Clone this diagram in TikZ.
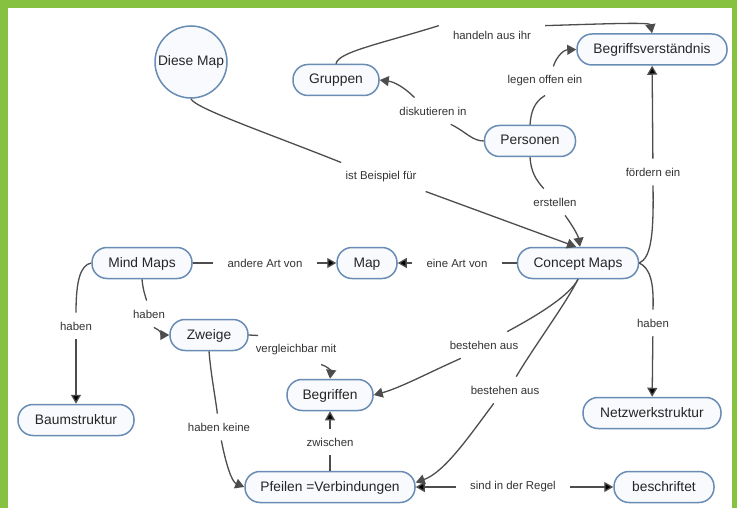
\documentclass[tikz,border=0pt]{standalone}
\usepackage{fontspec}
\setmainfont{Liberation Sans}
\usetikzlibrary{arrows.meta}
\definecolor{framegreen}{RGB}{134,193,63}
\definecolor{nodeborder}{RGB}{104,140,180}
\definecolor{nodefill}{RGB}{248,250,253}
\definecolor{linkgray}{RGB}{77,77,77}
\begin{document}
\begin{tikzpicture}[x=1pt,y=-1pt,
    cnode/.style={draw=nodeborder,fill=nodefill,line width=1.5pt,rounded corners=15pt,minimum height=31pt,inner sep=0pt,text height=10pt,text depth=2pt,font=\fontsize{13.8}{15}\selectfont,text=black!85},
    circnode/.style={draw=nodeborder,fill=nodefill,line width=1.5pt,circle,minimum size=72pt,inner sep=0pt,text height=10pt,text depth=2pt,font=\fontsize{13.8}{15}\selectfont,text=black!85},
    lnode/.style={inner xsep=14pt,inner ysep=9pt,font=\fontsize{11.4}{13}\selectfont,text=black!80},
    link/.style={draw=linkgray,line width=1.3pt},
    arr/.style={link,-{Triangle[length=9pt,width=10pt]}}]
    \useasboundingbox (0,0) rectangle (737,508);
    \fill[framegreen] (0,0) rectangle (737,508);
    \fill[white] (8,8) rectangle (732,508);

    \node[circnode] (diese) at (191,62) {Diese Map};
    \node[cnode,minimum width=86pt] (gruppen) at (336,80) {Gruppen};
    \node[cnode,minimum width=150pt] (begriff) at (652,49.5) {Begriffsverständnis};
    \node[cnode,minimum width=91pt] (personen) at (530,141) {Personen};
    \node[cnode,minimum width=100pt] (mind) at (142,263) {Mind Maps};
    \node[cnode,minimum width=60pt] (map) at (367,263) {Map};
    \node[cnode,minimum width=121pt] (concept) at (578,263) {Concept Maps};
    \node[cnode,minimum width=78pt] (zweige) at (209,335) {Zweige};
    \node[cnode,minimum width=86pt] (begriffen) at (330,395) {Begriffen};
    \node[cnode,minimum width=116pt] (baum) at (76,420) {Baumstruktur};
    \node[cnode,minimum width=170pt] (pfeilen) at (330,487) {Pfeilen =Verbindungen};
    \node[cnode,minimum width=100pt] (beschr) at (664,487) {beschriftet};
    \node[cnode,minimum width=138pt] (netz) at (652,413) {Netzwerkstruktur};

    \node[lnode] (lhandeln) at (492,35) {handeln aus ihr};
    \node[lnode] (llegen) at (545,81) {legen offen ein};
    \node[lnode] (ldisk) at (433,111) {diskutieren in};
    \node[lnode] (lbeispiel) at (381,177) {ist Beispiel für};
    \node[lnode] (lerstellen) at (555,202) {erstellen};
    \node[lnode] (lfoerdern) at (653,172) {fördern ein};
    \node[lnode] (landere) at (265,263) {andere Art von};
    \node[lnode] (leine) at (457,263) {eine Art von};
    \node[lnode] (lhabenA) at (76,326) {haben};
    \node[lnode] (lhabenB) at (149,314) {haben};
    \node[lnode] (lvergl) at (296,350) {vergleichbar mit};
    \node[lnode] (lkeine) at (219,427) {haben keine};
    \node[lnode] (lzwischen) at (330,442) {zwischen};
    \node[lnode] (lbest1) at (484,345) {bestehen aus};
    \node[lnode] (lbest2) at (505,390) {bestehen aus};
    \node[lnode] (lhabenC) at (653,323) {haben};
    \node[lnode] (lregel) at (513,487) {sind in der Regel};

    \draw[link] (gruppen.north) .. controls (338,52) and (380,44) .. (lhandeln.170);
    \draw[arr] (lhandeln.10) .. controls (600,24) and (650,22) .. (begriff.north);
    \draw[link] (personen.north) .. controls (531,112) and (534,102) .. (llegen.south);
    \draw[arr] (llegen.60) .. controls (555,60) and (562,50) .. (begriff.west);
    \draw[link] (personen.west) .. controls (472,141) and (465,131) .. (ldisk.-37);
    \draw[arr] (ldisk.144) .. controls (405,88) and (395,82) .. (gruppen.east);
    \draw[link] (personen.south) .. controls (531,172) and (536,180) .. (lerstellen.130);
    \draw[arr] (lerstellen.-53) .. controls (572,225) and (578,235) .. (concept.83);
    \draw[link] (diese.south) .. controls (194,108) and (270,134) .. (lbeispiel.160);
    \draw[arr] (lbeispiel.-18) -- (concept.97);
    \draw[link] (concept.east) .. controls (650,258) and (654,240) .. (lfoerdern.south);
    \path[arr] (lfoerdern) edge (begriff);
    \path[link] (concept) edge (leine);
    \path[arr] (leine) edge (map);
    \path[link] (mind) edge (landere);
    \path[arr] (landere) edge (map);
    \draw[link] (mind.west) .. controls (80,265) and (76,282) .. (lhabenA.north);
    \path[arr] (lhabenA) edge (baum);
    \draw[link] (mind.south) .. controls (143,290) and (145,295) .. (lhabenB.100);
    \draw[arr] (lhabenB.-70) .. controls (160,330) and (163,335) .. (zweige.west);
    \draw[link] (zweige.east) -- (lvergl.159);
    \draw[arr] (lvergl.-30) .. controls (327,366) and (331,371) .. (begriffen.north);
    \draw[link] (zweige.south) .. controls (211,375) and (215,395) .. (lkeine.97);
    \draw[arr] (lkeine.-80) .. controls (226,465) and (232,482) .. (pfeilen.west);
    \path[link] (pfeilen) edge (lzwischen);
    \path[arr] (lzwischen) edge (begriffen);
    \draw[link] (concept.south) .. controls (570,295) and (540,314) .. (lbest1.30);
    \draw[arr] (lbest1.-150) .. controls (430,372) and (400,388) .. (begriffen.east);
    \draw[link] (concept.south) .. controls (565,305) and (535,345) .. (lbest2.50);
    \draw[arr] (lbest2.-130) .. controls (470,435) and (445,472) .. (pfeilen.3);
    \draw[link] (concept.east) .. controls (650,268) and (654,282) .. (lhabenC.north);
    \path[arr] (lhabenC) edge (netz);
    \path[arr] (lregel) edge (pfeilen);
    \path[arr] (lregel) edge (beschr);
\end{tikzpicture}
\end{document}
